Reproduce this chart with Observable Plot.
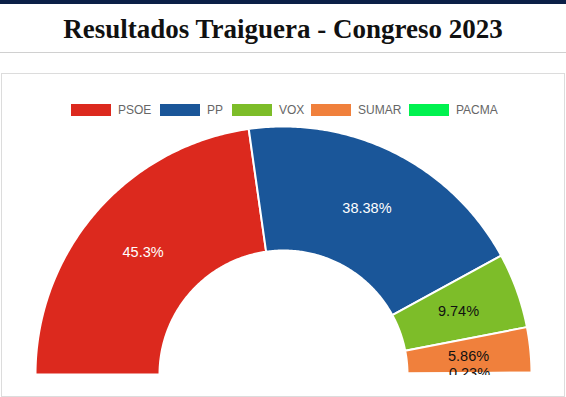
<!DOCTYPE html>
<html>
<head>
<meta charset="utf-8">
<script src="https://cdn.jsdelivr.net/npm/d3@7"></script>
<script src="https://cdn.jsdelivr.net/npm/@observablehq/plot@0.6"></script>
<style>
  html, body { margin: 0; padding: 0; background: #fff; }
  body { width: 566px; height: 397px; position: relative; overflow: hidden; font-family: "Liberation Sans", Arial, sans-serif; }
  #topbar { position: absolute; left: 0; top: 0; width: 566px; height: 4px; background: #0b1f47; }
  #title { position: absolute; left: 0; top: 12px; width: 566px; text-align: center;
           font-family: "Liberation Serif", "DejaVu Serif", serif; font-weight: bold; font-size: 27px;
           color: #111; line-height: 34px; }
  #rule { position: absolute; left: 0; top: 52px; width: 566px; height: 1px; background: #d0d0d0; }
  #box { position: absolute; left: 1px; top: 73px; width: 562px; height: 322px; border: 1px solid #dcdcdc; }
  #legend { position: absolute; left: 0; top: 101px; width: 566px; height: 18px; }
  .item { position: absolute; top: 0; height: 18px; display: flex; align-items: center; font-size: 12px; color: #666; }
  .sw { width: 40px; height: 12px; margin-right: 7px; }
  #chart { position: absolute; left: 0; top: 120px; width: 566px; height: 255px; overflow: hidden; }
</style>
</head>
<body>
<div id="topbar"></div>
<div id="title">Resultados Traiguera - Congreso 2023</div>
<div id="rule"></div>
<div id="box"></div>
<div id="legend"></div>
<div id="chart"></div>
<script>
const parties = ["PSOE", "PP", "VOX", "SUMAR", "PACMA"];
const values = [45.3, 38.38, 9.74, 5.86, 0.23];
const labels = ["45.3%", "38.38%", "9.74%", "5.86%", "0.23%"];
const colors = ["#dc291e", "#1a5699", "#7dbd29", "#f0803c", "#00f24f"];
const labelColors = ["white", "white", "#111", "#111", "#111"];
const legendX = [71, 160, 232, 311, 409];

// legend
const leg = document.getElementById("legend");
parties.forEach((p, i) => {
  const d = document.createElement("div");
  d.className = "item";
  d.style.left = legendX[i] + "px";
  d.innerHTML = `<span class="sw" style="background:${colors[i]}"></span>${p}`;
  leg.appendChild(d);
});

// half-donut geometry derived from values
const total = d3.sum(values);
const inner = 0.5, outer = 1.0;
let acc = 0;
const slices = values.map((v, i) => {
  const a0 = Math.PI - (acc / total) * Math.PI;
  acc += v;
  const a1 = Math.PI - (acc / total) * Math.PI;
  return {party: parties[i], a0, a1, i};
});
const poly = [];
for (const s of slices) {
  const n = Math.max(2, Math.ceil(Math.abs(s.a0 - s.a1) / 0.01));
  for (let k = 0; k <= n; k++) {
    const a = s.a0 + (s.a1 - s.a0) * k / n;
    poly.push({party: s.party, x: outer * Math.cos(a), y: outer * Math.sin(a)});
  }
  for (let k = n; k >= 0; k--) {
    const a = s.a0 + (s.a1 - s.a0) * k / n;
    poly.push({party: s.party, x: inner * Math.cos(a), y: inner * Math.sin(a)});
  }
  poly.push({party: s.party, x: outer * Math.cos(s.a0), y: outer * Math.sin(s.a0)});
}
const texts = slices.map(s => {
  const m = (s.a0 + s.a1) / 2, r = 0.75;
  return {party: s.party, x: r * Math.cos(m), y: r * Math.sin(m), label: labels[s.i], c: labelColors[s.i]};
});

const plot = Plot.plot({
  width: 566,
  height: 255,
  margin: 0,
  x: {domain: [-1, 1], range: [35, 531], axis: null},
  y: {domain: [0, 1], range: [254, 6], axis: null},
  color: {domain: parties, range: colors},
  marks: [
    Plot.line(poly, {x: "x", y: "y", z: "party", fill: "party", stroke: "white", strokeWidth: 2, curve: "linear"}),
    Plot.text(texts, {x: "x", y: "y", text: "label", fill: "c", fontSize: 14.5, fontFamily: "Liberation Sans, Arial, sans-serif"})
  ],
  style: {background: "transparent", overflow: "hidden"}
});
document.getElementById("chart").appendChild(plot);
</script>
</body>
</html>
